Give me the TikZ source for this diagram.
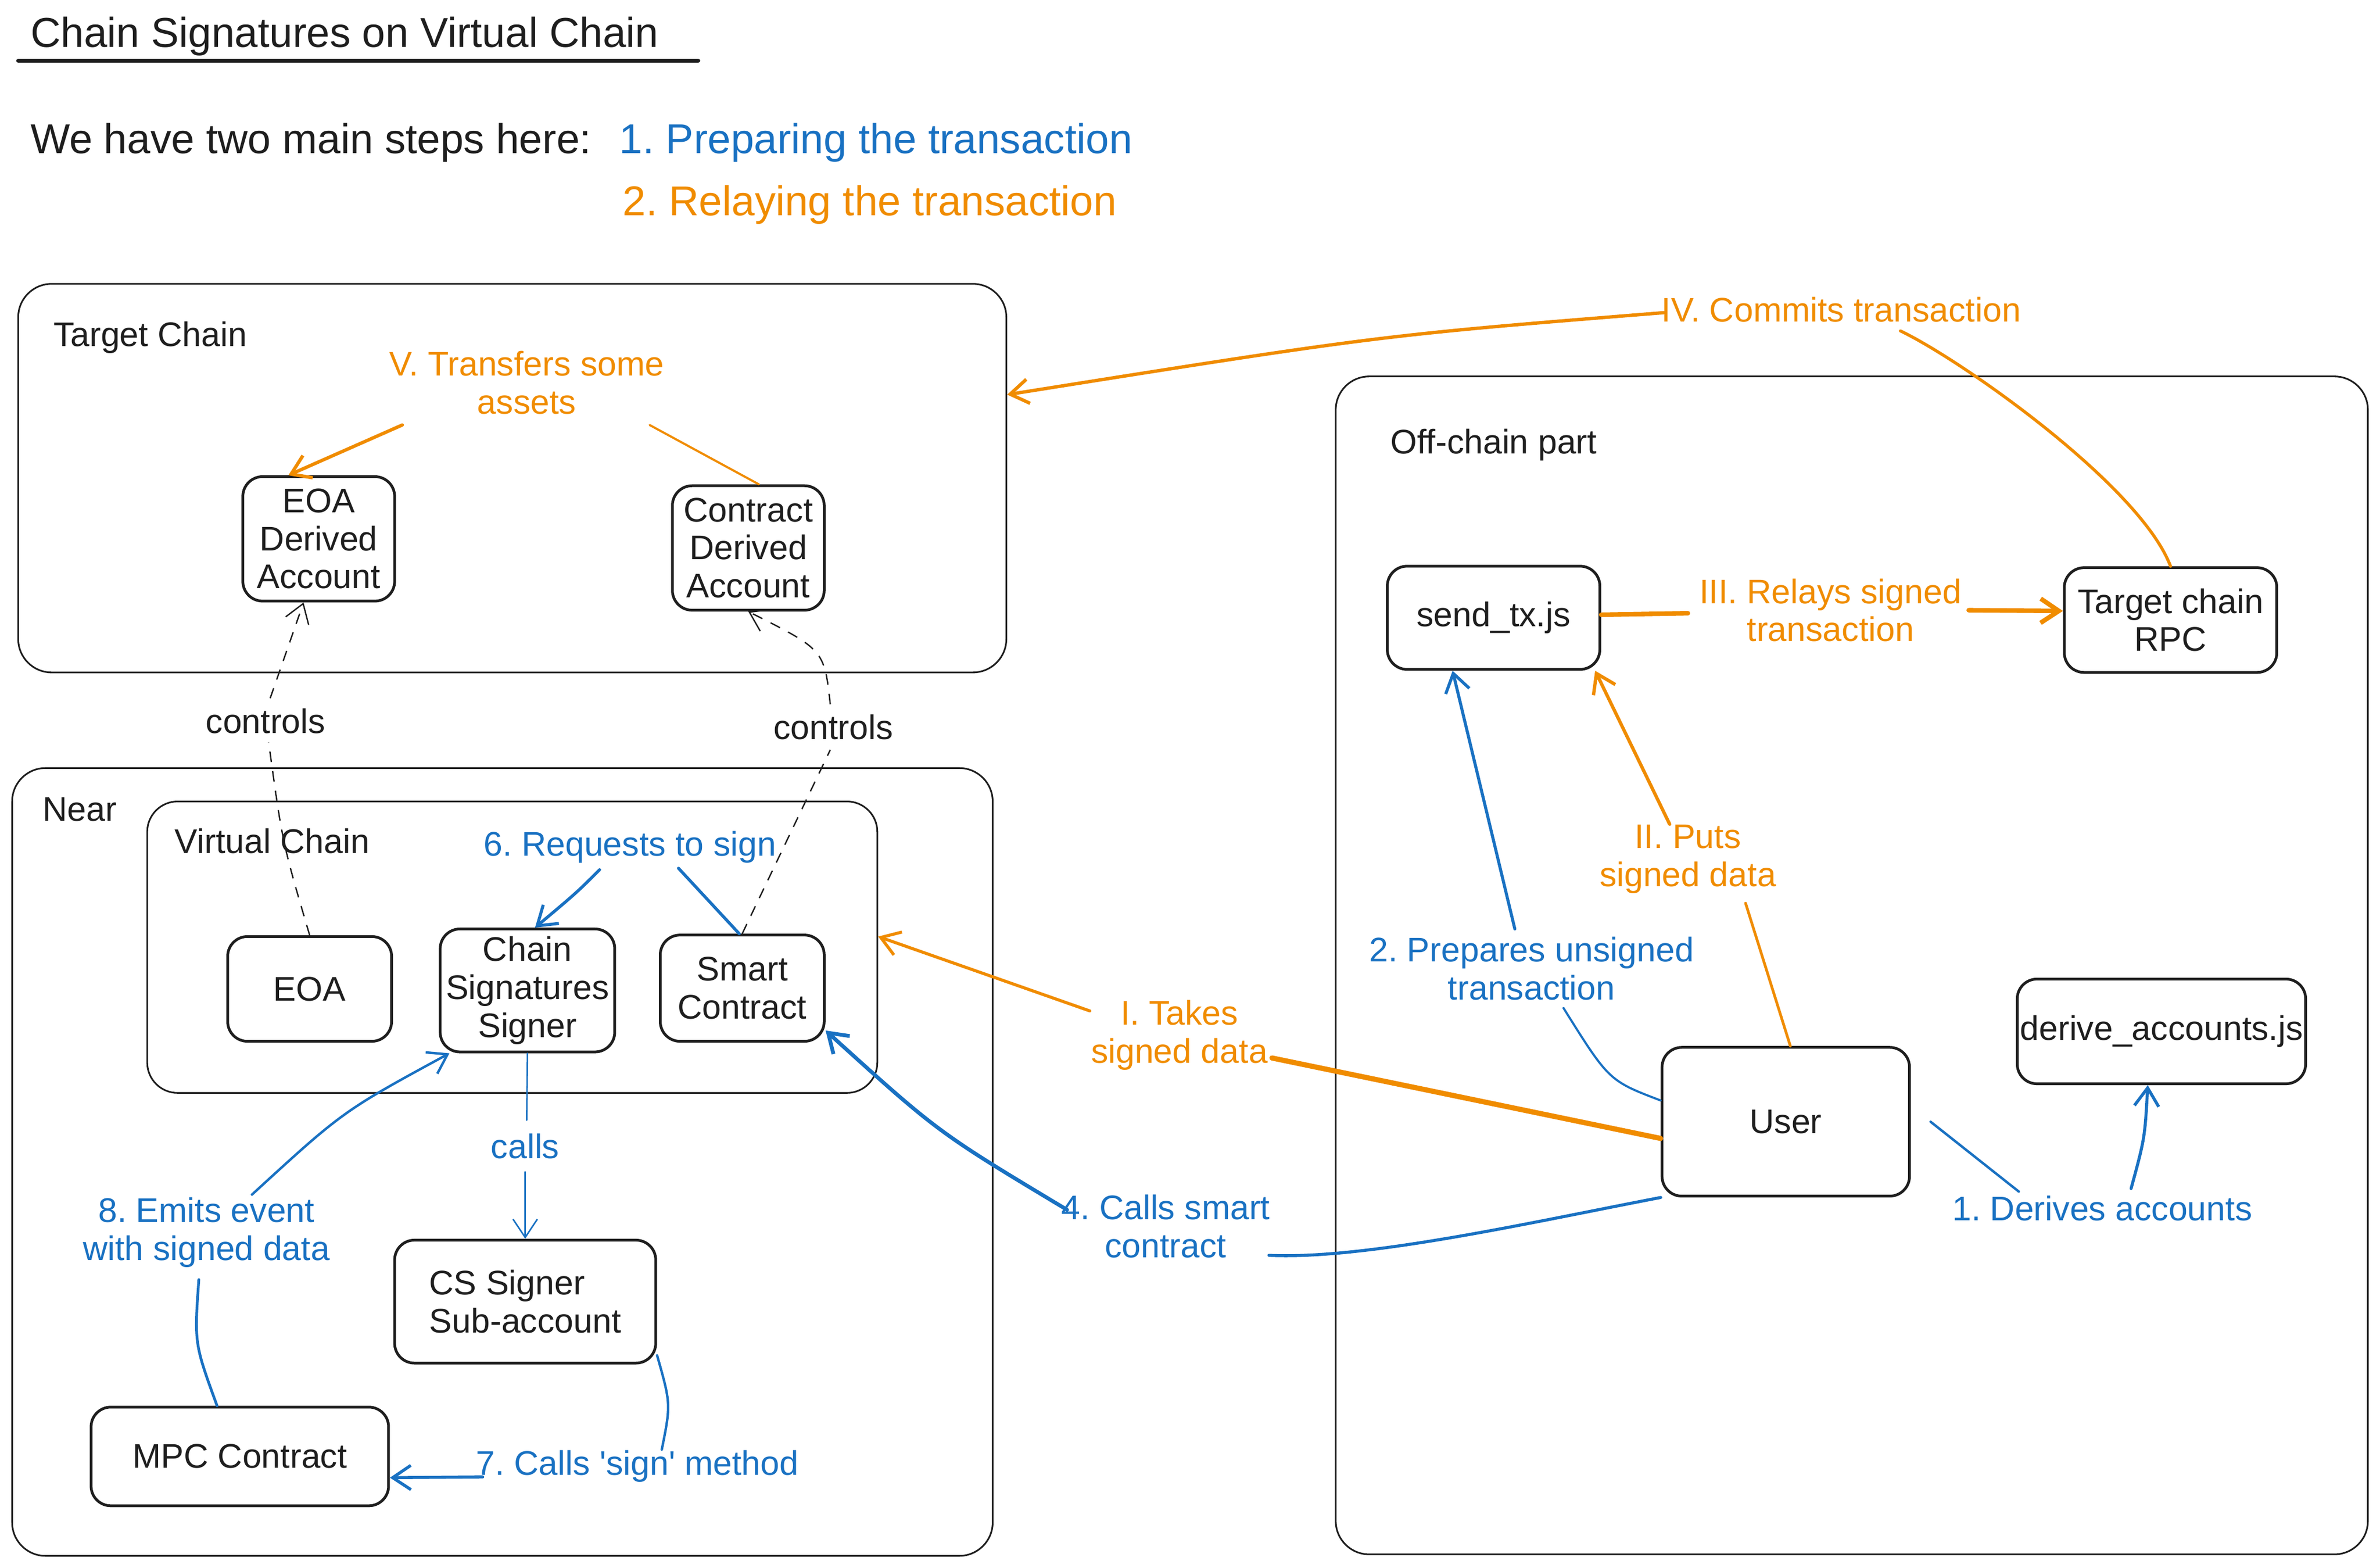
\documentclass[tikz,border=0pt]{standalone}
\usepackage{fontspec}
\setmainfont{Liberation Sans}
\usetikzlibrary{arrows.meta}
\definecolor{ink}{HTML}{1E1E1E}
\definecolor{xblue}{HTML}{1971C2}
\definecolor{xorange}{HTML}{F08C00}
\newcommand\nodefont{\fontsize{22.5}{25}\selectfont}
\newcommand\headfont{\fontsize{27.5}{30}\selectfont}
\frenchspacing
\begin{document}
\begin{tikzpicture}[x=1pt,y=-1pt,
  box/.style={draw=ink, line width=1.8pt, rounded corners=13pt, inner sep=0pt, align=center, font=\nodefont, text=ink},
  frame/.style={draw=ink, line width=1.1pt, rounded corners=22pt, inner sep=0pt},
  lbl/.style={inner sep=1pt, align=center, font=\nodefont, text=ink},
  head/.style={inner sep=0pt, font=\headfont, anchor=base west},
  btxt/.style={text=xblue},
  otxt/.style={text=xorange},
  bline/.style={draw=xblue, line cap=round, line join=round},
  oline/.style={draw=xorange, line cap=round, line join=round},
  kline/.style={draw=ink, line width=0.9pt, dash pattern=on 7pt off 6pt},
  tip/.style={-{Straight Barb[length=12pt,width=16pt]}}
]
\useasboundingbox (0,0) rectangle (1568,1032.65);
\fill[white] (0,0) rectangle (1568,1032.65);

% ---------- header ----------
\node[head, text=ink] (title) at (20,31) {Chain Signatures on Virtual Chain};
\draw[ink, line width=2.6pt, line cap=round] (12,40) -- (460,40);
\node[head, text=ink] (hdr) at (20,101) {We have two main steps here:};
\node[head, btxt] (step1) at (408,101) {1. Preparing the transaction};
\node[head, otxt] (step2) at (410,142) {2. Relaying the transaction};

% ---------- containers ----------
\node[frame, minimum width=651, minimum height=256] (tchain) at (337.5,315) {};
\node[lbl, anchor=base west, inner sep=0pt] (tchainlbl) at (35,228) {Target Chain};
\node[frame, minimum width=646, minimum height=519] (near) at (331,765.5) {};
\node[lbl, anchor=base west, inner sep=0pt] (nearlbl) at (28,541) {Near};
\node[frame, rounded corners=20pt, minimum width=481, minimum height=192] (vchain) at (337.5,624) {};
\node[lbl, anchor=base west, inner sep=0pt] (vchainlbl) at (115,562) {Virtual Chain};
\node[frame, minimum width=680, minimum height=776] (offchain) at (1220,636) {};
\node[lbl, anchor=base west, inner sep=0pt] (offlbl) at (916,299) {Off-chain part};

% ---------- boxes ----------
\node[box, minimum width=100, minimum height=82] (eoada) at (210,355) {EOA\\Derived\\Account};
\node[box, minimum width=100, minimum height=82] (cda) at (493,361) {Contract\\Derived\\Account};
\node[box, minimum width=108, minimum height=69] (eoa) at (204,651.5) {EOA};
\node[box, minimum width=115, minimum height=81] (css) at (347.5,652.5) {Chain\\Signatures\\Signer};
\node[box, minimum width=108, minimum height=70] (sc) at (489,651) {Smart\\Contract};
\node[box, align=left, minimum width=172, minimum height=81] (cssub) at (346,857.5) {CS Signer\\Sub-account};
\node[box, minimum width=196, minimum height=65] (mpc) at (158,959.5) {MPC Contract};
\node[box, minimum width=140, minimum height=68] (sendtx) at (984,407) {send\_tx.js};
\node[box, minimum width=140, minimum height=69] (rpc) at (1430,408.5) {Target chain\\RPC};
\node[box, minimum width=163, minimum height=98] (user) at (1176.5,739) {User};
\node[box, minimum width=190, minimum height=69] (derive) at (1424,679.5) {derive\_accounts.js};

% ---------- labels ----------
\node[lbl, otxt] (lblV) at (347,252) {V. Transfers some\\assets};
\node[lbl] (lblc1) at (175,475) {controls};
\node[lbl] (lblc2) at (549,479) {controls};
\node[lbl, btxt] (lbl6) at (415,558) {6. Requests to sign};
\node[lbl, btxt] (lblcalls) at (346,755) {calls};
\node[lbl, btxt] (lbl7) at (420,966) {7. Calls \textquotesingle sign\textquotesingle\ method};
\node[lbl, btxt] (lbl8) at (136,812) {8. Emits event\\with signed data};
\node[lbl, btxt] (lbl4) at (768,808) {4. Calls smart\\contract};
\node[lbl, otxt] (lblI) at (777,682) {I. Takes\\signed data};
\node[lbl, btxt] (lbl2) at (1009,638) {2. Prepares unsigned\\transaction};
\node[lbl, otxt] (lblII) at (1112,566) {II. Puts\\signed data};
\node[lbl, otxt] (lblIII) at (1206,402) {III. Relays signed\\transaction};
\node[lbl, otxt] (lblIV) at (1213,204) {IV. Commits transaction};
\node[lbl, btxt] (lbl1) at (1385,796) {1. Derives accounts};

% ---------- free ends beside labels ----------
\coordinate (vA) at (265,280);   \coordinate (vB) at (428,280);
\coordinate (c1a) at (177,489);  \coordinate (c1b) at (178,460);
\coordinate (c2a) at (547,494);  \coordinate (c2b) at (547,464);
\coordinate (r6a) at (395,573);  \coordinate (r6b) at (447,572);
\coordinate (ca) at (347,738);   \coordinate (cb) at (346,772);
\coordinate (s7a) at (318,973);  \coordinate (s7b) at (436,955);
\coordinate (e8a) at (131,843);  \coordinate (e8b) at (166,787);
\coordinate (k4a) at (703,797);  \coordinate (k4b) at (836,827);
\coordinate (tIa) at (718,666);  \coordinate (tIb) at (838,697);
\coordinate (p2a) at (998,612);  \coordinate (p2b) at (1030,664);
\coordinate (pIIa) at (1100,543); \coordinate (pIIb) at (1150,595);
\coordinate (rIIIa) at (1112,404); \coordinate (rIIIb) at (1297,402);
\coordinate (cIVa) at (1096,206); \coordinate (cIVb) at (1252,218);
\coordinate (d1a) at (1330,785); \coordinate (d1b) at (1404,783);

% ---------- connectors ----------
% V
\draw[oline, line width=2.2pt, tip] (vA) -- ([xshift=-20pt]eoada.north);
\draw[oline, line width=1.4pt] (vB) -- ([xshift=7pt]cda.north);
% controls
\draw[kline] (eoa.north) .. controls (186,555) .. (c1a);
\draw[kline, tip] (c1b) -- ([xshift=-10pt]eoada.south);
\draw[kline] (sc.north) -- (c2a);
\draw[kline, tip] (c2b) .. controls (543,428) .. (cda.south);
% 6
\draw[bline, line width=2pt, tip] (r6a) .. controls (380,588) .. ([xshift=5pt]css.north);
\draw[bline, line width=2pt] (r6b) -- ([xshift=-2pt]sc.north);
% calls
\draw[bline, line width=1pt] (css.south) -- (ca);
\draw[bline, line width=1pt, tip] (cb) -- (cssub.north);
% 7
\draw[bline, line width=2pt, tip] (s7a) -- ([yshift=-14pt]mpc.east);
\draw[bline, line width=1.6pt] ([yshift=6pt]cssub.south east) .. controls (442,925) .. (s7b);
% 8
\draw[bline, line width=1.8pt] ([xshift=-15pt]mpc.north) .. controls (128,885) .. (e8a);
\draw[bline, line width=1.6pt, tip] (e8b) .. controls (226,732) .. ([xshift=7pt]css.south west);
% 4
\draw[bline, line width=2.5pt, tip] (k4a) .. controls (618,746) .. ([yshift=8pt]sc.south east);
\draw[bline, line width=2pt] (user.south west) .. controls (1010,805) and (900,830) .. (k4b);
% I
\draw[oline, line width=2pt, tip] (tIa) -- ([yshift=7pt]vchain.east);
\draw[oline, line width=3.4pt] (tIb) -- ([yshift=-11pt]user.west);
% 2
\draw[bline, line width=2pt, tip] (p2a) -- ([xshift=-27pt]sendtx.south);
\draw[bline, line width=1.4pt] (p2b) .. controls (1060,712) .. ([yshift=14pt]user.west);
% II
\draw[oline, line width=2.2pt, tip] (pIIa) -- ([xshift=-4pt]sendtx.south east);
\draw[oline, line width=1.8pt] (pIIb) -- ([xshift=3pt]user.north);
% III
\draw[oline, line width=3pt] ([yshift=2pt]sendtx.east) -- (rIIIa);
\draw[oline, line width=3pt, tip] (rIIIb) -- ([yshift=6pt]rpc.west);
% IV
\draw[oline, line width=2.2pt, tip] (cIVa) .. controls (909,221) .. ([yshift=55pt]tchain.east);
\draw[oline, line width=2pt] (rpc.north) .. controls (1410,320) and (1292,237) .. (cIVb);
% 1
\draw[bline, line width=1.6pt] ([xshift=13pt]user.east) -- (d1a);
\draw[bline, line width=2pt, tip] (d1b) .. controls (1413,750) .. ([xshift=-9pt]derive.south);
\end{tikzpicture}
\end{document}
